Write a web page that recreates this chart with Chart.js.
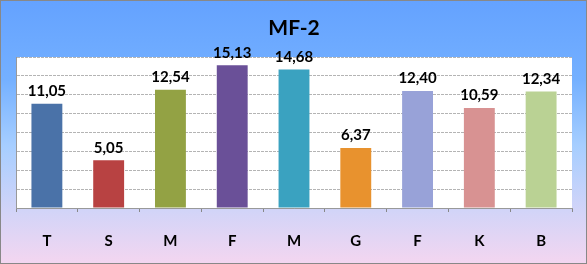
<!DOCTYPE html>
<html>
<head>
<meta charset="utf-8">
<script src="https://cdn.jsdelivr.net/npm/chart.js@4"></script>
<style>
  html, body { margin: 0; padding: 0; background: #fff; }
  #wrap { width: 587px; height: 264px; }
</style>
</head>
<body>
<div id="wrap"><canvas id="chart" width="587" height="264"></canvas></div>
<script>
// Data
const categories = ["T", "S", "M", "F", "M", "G", "F", "K", "B"];
const values = [11.05, 5.05, 12.54, 15.13, 14.68, 6.37, 12.40, 10.59, 12.34];
const barColors = ["#4a72a8", "#b84242", "#93a244", "#6a5098", "#3aa2c0", "#e8922e", "#98a2d8", "#d89292", "#bad294"];
const chartTitle = "MF-2";

// Background, plot area, title and border
const backdrop = {
  id: "backdrop",
  beforeDraw(chart) {
    const { ctx, chartArea, width, height } = chart;
    const g = ctx.createLinearGradient(0, 0, 0, height);
    g.addColorStop(0, "#64a2ff");
    g.addColorStop(0.3, "#74b0ff");
    g.addColorStop(0.55, "#a6ceff");
    g.addColorStop(0.8, "#d2d4f8");
    g.addColorStop(1, "#f4d6f0");
    ctx.save();
    ctx.fillStyle = g;
    ctx.fillRect(0, 0, width, height);
    ctx.fillStyle = "#ffffff";
    ctx.fillRect(chartArea.left, chartArea.top, chartArea.right - chartArea.left, chartArea.bottom - chartArea.top);
    ctx.restore();
  },
  afterDraw(chart) {
    const { ctx, width, height } = chart;
    ctx.save();
    ctx.fillStyle = "#000";
    ctx.font = "bold 21px Lato, 'Open Sans', sans-serif";
    ctx.textAlign = "center";
    ctx.textBaseline = "middle";
    ctx.fillText(chartTitle, 294, 28);
    ctx.strokeStyle = "#888";
    ctx.lineWidth = 1;
    ctx.strokeRect(0.5, 0.5, width - 1, height - 1);
    ctx.restore();
  },
};

// Value labels above bars
const valueLabels = {
  id: "valueLabels",
  afterDatasetsDraw(chart) {
    const { ctx } = chart;
    const meta = chart.getDatasetMeta(0);
    ctx.save();
    ctx.fillStyle = "#000";
    ctx.font = "bold 15px Lato, 'Open Sans', sans-serif";
    ctx.textAlign = "center";
    ctx.textBaseline = "bottom";
    meta.data.forEach((bar, i) => {
      ctx.fillText(values[i].toFixed(2).replace(".", ","), bar.x, bar.y - 5);
    });
    ctx.restore();
  },
};

new Chart(document.getElementById("chart"), {
  type: "bar",
  data: {
    labels: categories,
    datasets: [
      {
        data: values,
        backgroundColor: barColors,
        borderWidth: 0,
        barPercentage: 0.5,
        categoryPercentage: 1,
      },
    ],
  },
  options: {
    responsive: false,
    animation: false,
    layout: { padding: { left: 16, right: 15, top: 57, bottom: 0 } },
    plugins: { legend: { display: false }, tooltip: { enabled: false } },
    scales: {
      x: {
        grid: { display: true, drawOnChartArea: false, tickLength: 4, color: "#888", offset: true },
        border: { color: "#999" },
        ticks: { color: "#000", font: { family: "Lato, 'Open Sans', sans-serif", size: 15, weight: "bold" }, padding: 20 },
        afterFit(scale) { scale.height = 56; },
      },
      y: {
        min: 0,
        max: 16,
        ticks: { display: false, stepSize: 2 },
        grid: { color: "#b4b4b4", drawTicks: false, lineWidth: 1 },
        border: { color: "#999", dash: [3, 1] },
        afterFit(scale) { scale.width = 0; },
      },
    },
  },
  plugins: [backdrop, valueLabels],
});
</script>
</body>
</html>
